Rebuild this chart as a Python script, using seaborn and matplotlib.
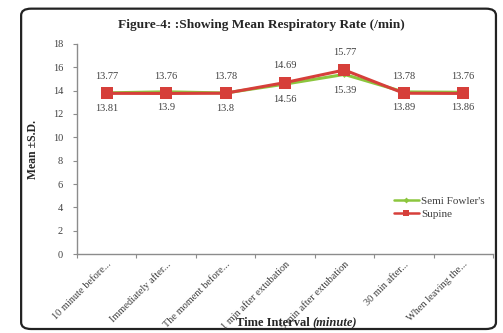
import matplotlib
matplotlib.use("Agg")
import matplotlib.pyplot as plt
from matplotlib.patches import FancyBboxPatch
from matplotlib.lines import Line2D
import seaborn as sns
import pandas as pd

categories = [
    "10 minute before...",
    "Immediately after...",
    "The moment before...",
    "1 min after extubation",
    "5 min after extubation",
    "30 min after...",
    "When leaving the...",
]
semi_fowler = [13.81, 13.9, 13.8, 14.56, 15.39, 13.89, 13.86]
supine = [13.77, 13.76, 13.78, 14.69, 15.77, 13.78, 13.76]
series_names = ["Semi Fowler's", "Supine"]
y_ticks = [0, 2, 4, 6, 8, 10, 12, 14, 16, 18]

df = pd.DataFrame({
    "Interval": categories * 2,
    "Value": semi_fowler + supine,
    "Group": [series_names[0]] * len(categories) + [series_names[1]] * len(categories),
})

sns.set_style("white")
plt.rcParams["font.family"] = ["Liberation Serif", "DejaVu Serif"]

green = "#8cc63e"
red = "#d63f3a"
text_gray = "#404040"
axis_gray = "#8c8c8c"

fig = plt.figure(figsize=(5.03, 3.33), dpi=100)
# Rounded outer frame of the figure panel
frame = FancyBboxPatch((0.042, 0.012), 0.944, 0.962,
                       boxstyle="round,pad=0,rounding_size=0.02",
                       transform=fig.transFigure, facecolor="white",
                       edgecolor="#222222", linewidth=1.6, zorder=-5)
fig.patches.append(frame)

ax = fig.add_axes([0.153, 0.237, 0.827, 0.631])
ax.set_facecolor("none")
ax.set_zorder(2)

sns.lineplot(data=df, x="Interval", y="Value", hue="Group", style="Group",
             palette={series_names[0]: green, series_names[1]: red},
             markers={series_names[0]: "D", series_names[1]: "s"},
             dashes=False, sort=False, ax=ax, linewidth=2.2,
             markeredgewidth=0, legend=False)
for line, ms in zip(ax.lines[:2], [3.5, 8]):
    line.set_markersize(ms)

for i, (g, r) in enumerate(zip(semi_fowler, supine)):
    ax.annotate(f"{r:g}", (i, r), xytext=(0, 9), textcoords="offset points",
                ha="center", va="bottom", fontsize=7.5, color=text_gray)
    ax.annotate(f"{g:g}", (i, g), xytext=(0, -8), textcoords="offset points",
                ha="center", va="top", fontsize=7.5, color=text_gray)

ax.set_xlim(-0.5, len(categories) - 0.5)
ax.set_ylim(0, 18)
ax.set_yticks(y_ticks)
ax.set_yticklabels([str(t) for t in y_ticks], fontsize=7.5, color=text_gray)
ax.set_xticks(range(len(categories)))
ax.set_xticklabels(categories, rotation=45, ha="right", rotation_mode="anchor",
                   fontsize=7.5, color=text_gray)
ax.tick_params(axis="x", which="major", bottom=False, length=0, pad=4)
ax.tick_params(axis="y", left=True, length=3, width=0.8, color=axis_gray,
               direction="out", pad=7)
# tick marks on x sit between categories
ax.set_xticks([i - 0.5 for i in range(len(categories) + 1)], minor=True)
ax.tick_params(axis="x", which="minor", bottom=True, length=3, width=0.8,
               color=axis_gray, direction="out")

for s in ["top", "right"]:
    ax.spines[s].set_visible(False)
for s in ["left", "bottom"]:
    ax.spines[s].set_color(axis_gray)
    ax.spines[s].set_linewidth(1.0)

ax.set_xlabel("")
ax.set_ylabel("Mean ±S.D.", fontsize=8.5, fontweight="bold", labelpad=10)
fig.text(0.622, 0.022, "Time Interval ", ha="right", va="baseline",
         fontsize=9, fontweight="bold")
fig.text(0.622, 0.022, "(minute)", ha="left", va="baseline",
         fontsize=9, fontweight="bold", style="italic")
fig.text(0.519, 0.925, "Figure-4: :Showing Mean Respiratory Rate (/min)",
         ha="center", va="center", fontsize=9.6, fontweight="bold")

handles = [
    Line2D([], [], color=green, linewidth=1.8, marker="D", markersize=3,
           markeredgewidth=0),
    Line2D([], [], color=red, linewidth=1.8, marker="s", markersize=5,
           markeredgewidth=0),
]
leg = ax.legend(handles, series_names, loc="lower right",
                bbox_to_anchor=(1.005, 0.12), frameon=False,
                fontsize=8, handlelength=2.3, handletextpad=0.2,
                labelspacing=0.25)
for t in leg.get_texts():
    t.set_color(text_gray)

fig.savefig("out.png", dpi=100)
